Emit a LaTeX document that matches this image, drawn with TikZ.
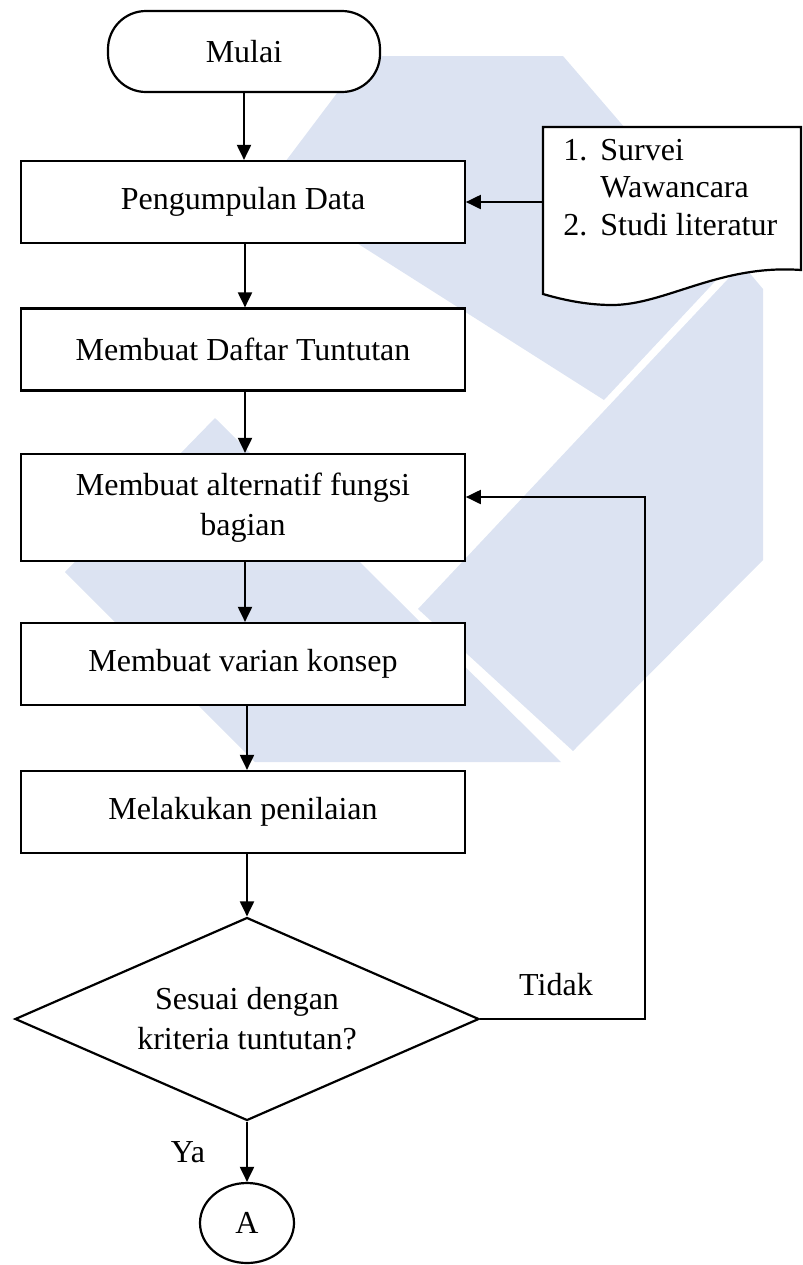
\documentclass[tikz,border=0pt]{standalone}
\usepackage{fontspec}
\setmainfont{Liberation Serif}
\usepackage{xcolor}
\usepackage{tikz}
\usetikzlibrary{shapes.geometric,arrows.meta}
\definecolor{wmblue}{RGB}{220,227,242}

\begin{document}
\begin{tikzpicture}[x=0.5pt,y=-0.5pt,
  font=\fontsize{16}{20}\selectfont,
  proses/.style={draw,line width=1.1pt,fill=white,minimum width=221.75pt,
    minimum height=41pt,inner sep=0pt,align=center},
  terminal/.style={draw,line width=1.1pt,fill=white,rounded corners=19pt,
    minimum width=136pt,minimum height=40.5pt},
  keputusan/.style={draw,diamond,aspect=2.3,line width=1.1pt,fill=white,
    minimum width=232pt,minimum height=101.5pt,inner sep=0pt,align=center},
  konektor/.style={draw,ellipse,line width=1.1pt,fill=white,
    minimum width=47pt,minimum height=40pt,inner sep=0pt},
  panah/.style={-{Triangle[length=7.5pt,width=7pt]},line width=1pt},
  garis/.style={line width=1.1pt}]
  \useasboundingbox (0,0) rectangle (803,1265);
  % --- background logo
  \fill[wmblue] (365,56) -- (563,56) -- (737,258) -- (604,400) -- (267,186) -- cycle;
  \fill[wmblue] (742,264) -- (763,289) -- (763,560) -- (573,751) -- (418,609) -- cycle;
  \fill[wmblue] (215,418) -- (65,572) -- (255,762) -- (561,762) -- cycle;
  % --- main column
  \node[terminal] (mulai) at (244,51.5) {Mulai};
  \node[proses] (kumpul) at (243,202) {Pengumpulan Data};
  \node[proses] (daftar) at (243,349.5) {Membuat Daftar Tuntutan};
  \node[proses,minimum height=53.5pt] (alternatif) at (243,507.5)
    {Membuat alternatif fungsi\\bagian};
  \node[proses] (varian) at (243,664) {Membuat varian konsep};
  \node[proses] (nilai) at (243,812) {Melakukan penilaian};
  \node[keputusan] (cek) at (247,1019) {Sesuai dengan\\kriteria tuntutan?};
  \node[konektor] (hubA) at (247,1223) {A};
  \draw[panah] (mulai.south) -- (mulai.south |- kumpul.north);
  \draw[panah] ([xshift=1pt]kumpul.south) -- ([xshift=1pt]daftar.north);
  \draw[panah] ([xshift=1pt]daftar.south) -- ([xshift=1pt]alternatif.north);
  \draw[panah] ([xshift=1pt]alternatif.south) -- ([xshift=1pt]varian.north);
  \draw[panah] ([xshift=2pt]varian.south) -- ([xshift=2pt]nilai.north);
  \draw[panah] ([xshift=2pt]nilai.south) -- (cek.north);
  \draw[panah] (cek) -- (hubA);
  \node (ya) at (188,1152) {Ya};
  % --- data sources (document)
  \draw[garis,fill=white] (543,127) -- (801,127) -- (801,270)
    .. controls (720,264) and (665,305) .. (612,305)
    .. controls (585,305) and (560,299) .. (543,294) -- cycle;
  \node[anchor=west,inner sep=0pt,font=\fontsize{16}{18.75}\selectfont] (sumber) at (563,190)
    {\begin{tabular}{@{}l@{\hspace{6.5pt}}l@{}}1. & Survei\\ & Wawancara\\ 2. & Studi literatur\end{tabular}};
  \coordinate (dokin) at (543,202);
  \draw[panah] (dokin) -- (kumpul.east);
  % --- loop back
  \coordinate (balik) at (645,497);
  \draw[panah] (cek.east) -| (balik) -- (alternatif.east |- balik);
  \node (tidak) at (556,985) {Tidak};
\end{tikzpicture}
\end{document}
